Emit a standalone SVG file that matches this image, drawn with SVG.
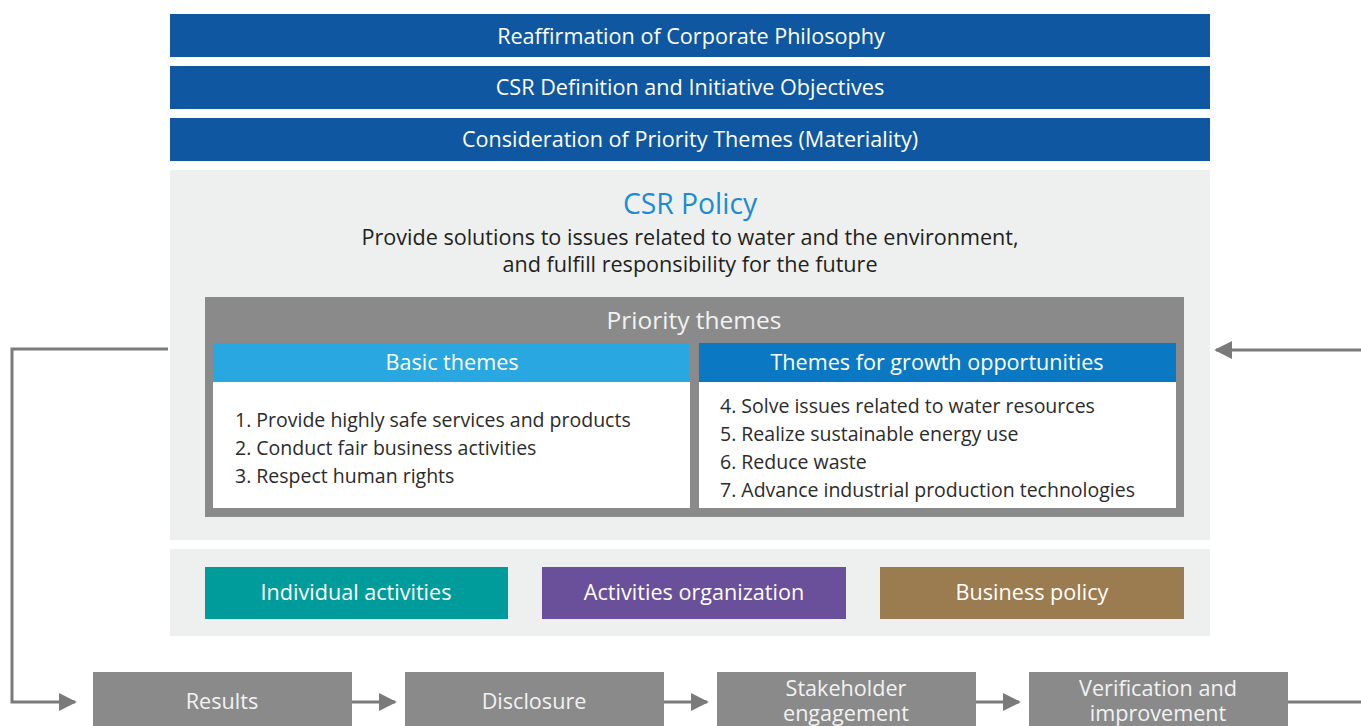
<svg xmlns="http://www.w3.org/2000/svg" width="1361" height="726" viewBox="0 0 1361 726">
<style>
text{font-family:"Open Sans","Noto Sans","Liberation Sans",sans-serif}
.bar{fill:#0f57a0}
.wt{fill:#ffffff;text-anchor:middle;font-size:21.6px}
.panel{fill:#eef0ef}
.gray{fill:#8a8a8a}
.item{fill:#2b2b2b;font-size:19.5px}
.conn{fill:none;stroke:#7a7a7a;stroke-width:3}
.step{fill:#8a8a8a}
.st{fill:#f2f2f2;text-anchor:middle;font-size:21.6px}
</style>
<defs>
<marker id="ah" viewBox="0 0 10 10" refX="9" refY="5" markerWidth="6" markerHeight="6" orient="auto" markerUnits="strokeWidth">
<path d="M0,0 L10,5 L0,10 z" fill="#7a7a7a"/>
</marker>
</defs>
<rect width="1361" height="726" fill="#ffffff"/>
<g id="bar1"><rect class="bar" x="170" y="14" width="1040" height="43"/><text class="wt" x="691" y="44">Reaffirmation of Corporate Philosophy</text></g>
<g id="bar2"><rect class="bar" x="170" y="66" width="1040" height="43"/><text class="wt" x="690" y="95">CSR Definition and Initiative Objectives</text></g>
<g id="bar3"><rect class="bar" x="170" y="118" width="1040" height="43"/><text class="wt" x="690" y="147">Consideration of Priority Themes (Materiality)</text></g>
<g id="policy">
<rect class="panel" x="170" y="170" width="1040" height="370"/>
<text x="690" y="214" text-anchor="middle" font-size="28.3" fill="#1a8cd6">CSR Policy</text>
<text x="690" y="245" text-anchor="middle" font-size="21.6" fill="#231f20">Provide solutions to issues related to water and the environment,</text>
<text x="690" y="272" text-anchor="middle" font-size="21.6" fill="#231f20">and fulfill responsibility for the future</text>
</g>
<g id="priority">
<rect class="gray" x="205" y="297" width="979" height="220"/>
<text x="694" y="329" text-anchor="middle" font-size="24.5" fill="#f2f2f2">Priority themes</text>
</g>
<g id="basic">
<rect x="213" y="343" width="477" height="39" fill="#29a7e0"/>
<rect x="213" y="382" width="477" height="126" fill="#ffffff"/>
<text class="wt" x="452" y="370">Basic themes</text>
<text class="item" x="235" y="427">1. Provide highly safe services and products</text>
<text class="item" x="235" y="455">2. Conduct fair business activities</text>
<text class="item" x="235" y="483">3. Respect human rights</text>
</g>
<g id="growth">
<rect x="699" y="343" width="477" height="39" fill="#0b78c4"/>
<rect x="699" y="382" width="477" height="126" fill="#ffffff"/>
<text class="wt" x="937" y="370">Themes for growth opportunities</text>
<text class="item" x="720" y="413">4. Solve issues related to water resources</text>
<text class="item" x="720" y="441">5. Realize sustainable energy use</text>
<text class="item" x="720" y="469">6. Reduce waste</text>
<text class="item" x="720" y="497">7. Advance industrial production technologies</text>
</g>
<g id="activities-panel"><rect class="panel" x="170" y="549" width="1040" height="87"/></g>
<g id="individual"><rect x="205" y="567" width="303" height="52" fill="#009c9c"/><text class="wt" x="356" y="600">Individual activities</text></g>
<g id="organization"><rect x="542" y="567" width="304" height="52" fill="#6a4f9b"/><text class="wt" x="694" y="600">Activities organization</text></g>
<g id="business"><rect x="880" y="567" width="304" height="52" fill="#9b7b50"/><text class="wt" x="1032" y="600">Business policy</text></g>
<g id="results"><rect class="step" x="93" y="672" width="259" height="60"/><text class="st" x="222" y="709">Results</text></g>
<g id="disclosure"><rect class="step" x="405" y="672" width="259" height="60"/><text class="st" x="534" y="709">Disclosure</text></g>
<g id="stakeholder"><rect class="step" x="717" y="672" width="259" height="60"/><text class="st" x="846" y="696">Stakeholder</text><text class="st" x="846" y="721">engagement</text></g>
<g id="verification"><rect class="step" x="1029" y="672" width="259" height="60"/><text class="st" x="1158" y="696">Verification and</text><text class="st" x="1158" y="721">improvement</text></g>
<g id="connectors">
<path class="conn" d="M168,349 H12 V702 H75" marker-end="url(#ah)"/>
<path class="conn" d="M352,702 H395" marker-end="url(#ah)"/>
<path class="conn" d="M664,702 H707" marker-end="url(#ah)"/>
<path class="conn" d="M976,702 H1019" marker-end="url(#ah)"/>
<path class="conn" d="M1288,702 H1361"/>
<path class="conn" d="M1361,350 H1216" marker-end="url(#ah)"/>
</g>
</svg>
